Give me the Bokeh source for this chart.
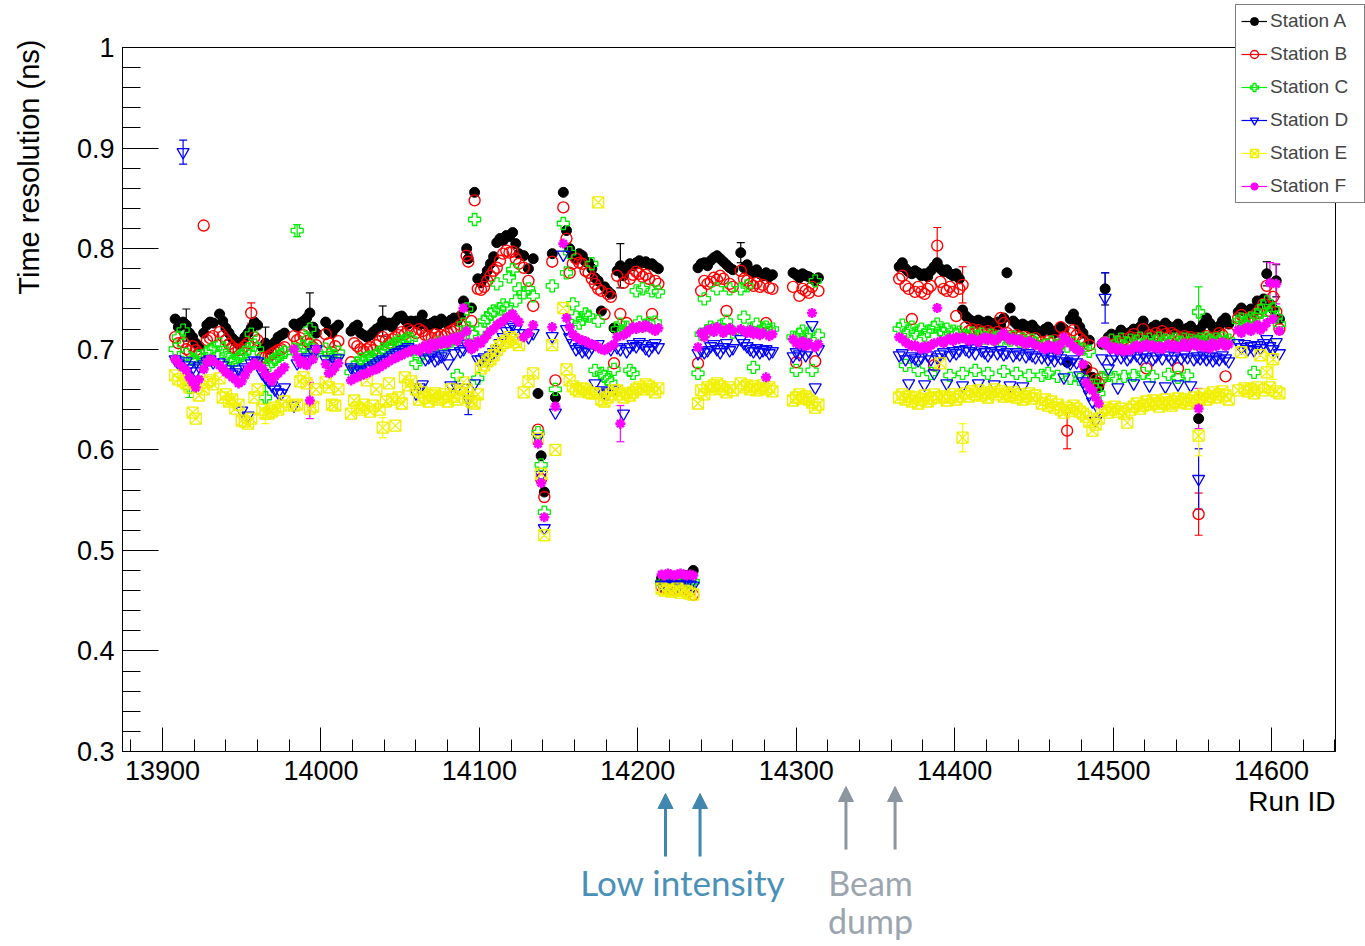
from math import pi
from bokeh.plotting import figure
from bokeh.models import (ColumnDataSource, Whisker, TeeHead, Legend, LegendItem, Label,
                          Arrow, NormalHead, SingleIntervalTicker, CustomJSTickFormatter,
                          BasicTickFormatter, Range1d, GridBox)
from bokeh.embed import file_html
from bokeh.resources import INLINE

# ---------------- data ----------------
run_id = [
    13908, 13910, 13913, 13915, 13917, 13919, 13921, 13923, 13926, 13928, 13930, 13932,
    13936, 13938, 13940, 13942, 13944, 13946, 13948, 13950, 13952, 13954, 13956, 13958, 13960,
    13963, 13965, 13967, 13969, 13971, 13973, 13975, 13977,
    13983, 13985, 13987, 13989, 13991, 13993, 13995, 13997,
    14003, 14005, 14007, 14009, 14011,
    14019, 14021, 14023, 14025, 14027, 14029, 14031, 14033, 14035, 14037,
    14039, 14041, 14043, 14045, 14047, 14049, 14051, 14053, 14055, 14057,
    14060, 14062, 14064, 14066, 14068, 14070, 14072, 14074, 14076, 14078,
    14080, 14082, 14084, 14086, 14088, 14090, 14092, 14093, 14095, 14097, 14099,
    14101, 14103, 14105, 14107, 14109, 14111, 14113, 14115, 14117, 14119, 14121, 14123, 14125,
    14128, 14131, 14134, 14137, 14139, 14141, 14146, 14148,
    14153, 14155, 14157, 14159, 14161, 14163, 14165, 14167, 14169, 14171,
    14173, 14175, 14177, 14179, 14181, 14183, 14185,
    14187, 14189, 14191, 14193, 14195, 14197, 14199, 14201, 14203, 14205, 14207, 14209, 14211, 14213,
    14215, 14217, 14219, 14221, 14223, 14225, 14227, 14229, 14231, 14233, 14235,
    14238, 14240, 14242, 14244, 14246, 14248, 14250, 14252, 14254, 14256, 14258, 14260,
    14265, 14267, 14269, 14271, 14273, 14275, 14277, 14279, 14281, 14283, 14285,
    14298, 14300, 14302, 14304, 14306, 14308, 14310, 14312, 14314,
    14365, 14367, 14369, 14371, 14373, 14375, 14377, 14379, 14381, 14383,
    14385, 14387, 14389, 14391, 14393, 14395, 14397, 14399, 14401, 14403,
    14405, 14407, 14409, 14411, 14413, 14415, 14417, 14419, 14421, 14423,
    14425, 14427, 14429, 14431, 14433, 14435, 14437, 14439, 14441, 14443,
    14445, 14447, 14449, 14451,
    14455, 14457, 14459, 14461, 14463, 14465, 14467, 14469, 14471, 14473,
    14475, 14477, 14479, 14481, 14483, 14485, 14487, 14489, 14491,
    14493, 14495, 14497, 14499, 14501, 14503, 14505, 14507, 14509, 14511,
    14513, 14515, 14517, 14519, 14521, 14523, 14525, 14527, 14529, 14531,
    14533, 14535, 14537, 14539, 14541, 14543, 14545, 14547, 14549, 14551,
    14553, 14554, 14555, 14557, 14559, 14561, 14563, 14565, 14567, 14569, 14571, 14573,
    14579, 14581, 14583, 14585, 14587, 14589, 14591, 14593, 14595, 14597, 14599, 14601, 14603, 14605,
]

station_a = [
    0.730, 0.722, 0.727, 0.724, 0.716, 0.712, 0.706, 0.703, 0.716, 0.724, 0.727, 0.726,
    0.735, 0.728, 0.721, 0.716, 0.711, 0.708, 0.705, 0.707, 0.712, 0.716, 0.721, 0.727, 0.724,
    0.702, 0.706, 0.700, 0.704, 0.707, 0.712, 0.714, 0.716,
    0.725, 0.722, 0.726, 0.728, 0.731, 0.736, 0.722, 0.716,
    0.727, 0.719, 0.716, 0.721, 0.724,
    0.718, 0.722, 0.724, 0.716, 0.714, 0.712, 0.714, 0.717, 0.720, 0.722,
    0.728, 0.724, 0.726, 0.722, 0.728, 0.732, 0.733, 0.729, 0.725, 0.728,
    0.728, 0.724, 0.734, 0.725, 0.722, 0.726, 0.728, 0.724, 0.730, 0.727,
    0.725, 0.729, 0.731, 0.728, 0.733, 0.748, 0.800, 0.790, 0.741, 0.856, 0.770,
    0.766, 0.771, 0.778, 0.785, 0.792, 0.806, 0.810, 0.808, 0.813, 0.812, 0.816, 0.805, 0.795,
    0.793, 0.780, 0.790, 0.656, 0.594, 0.558, 0.795, 0.652,
    0.856, 0.818, 0.800, 0.793, 0.790, 0.795, 0.793, 0.787, 0.786, 0.780,
    0.771, 0.768, 0.738, 0.762, 0.758, 0.755, 0.721,
    0.778, 0.783, 0.773, 0.780, 0.785, 0.783, 0.786, 0.788, 0.786, 0.787, 0.784, 0.785, 0.782, 0.780,
    0.472, 0.471, 0.473, 0.472, 0.474, 0.473, 0.472, 0.474, 0.475, 0.476, 0.480,
    0.781, 0.785, 0.786, 0.783, 0.788, 0.791, 0.793, 0.790, 0.787, 0.784, 0.781, 0.779,
    0.796, 0.781, 0.784, 0.778, 0.776, 0.779, 0.775, 0.773, 0.776, 0.772, 0.774,
    0.776, 0.774, 0.771, 0.775, 0.773, 0.772, 0.770, 0.768, 0.771,
    0.782, 0.786, 0.780, 0.777, 0.775, 0.778, 0.776, 0.773, 0.775, 0.772,
    0.778, 0.782, 0.786, 0.780, 0.777, 0.779, 0.775, 0.773, 0.775, 0.770,
    0.739, 0.733, 0.730, 0.728, 0.726, 0.729, 0.727, 0.725, 0.728, 0.726,
    0.723, 0.727, 0.724, 0.731, 0.776, 0.741, 0.728, 0.725, 0.722, 0.725,
    0.723, 0.721, 0.724, 0.720,
    0.717, 0.720, 0.722, 0.718, 0.716, 0.719, 0.722, 0.720, 0.687, 0.730,
    0.735, 0.728, 0.722, 0.716, 0.680, 0.709, 0.672, 0.668, 0.662,
    0.705, 0.760, 0.712, 0.715, 0.710, 0.714, 0.719, 0.716, 0.713, 0.717,
    0.720, 0.715, 0.722, 0.728, 0.720, 0.716, 0.722, 0.724, 0.718, 0.721,
    0.726, 0.723, 0.719, 0.722, 0.725, 0.720, 0.717, 0.721, 0.723, 0.719,
    0.716, 0.631, 0.720, 0.725, 0.731, 0.726, 0.722, 0.719, 0.723, 0.728, 0.731, 0.725,
    0.737, 0.741, 0.738, 0.735, 0.740, 0.737, 0.748, 0.744, 0.750, 0.775, 0.745, 0.740, 0.768, 0.730,
]

station_b = [
    0.712, 0.706, 0.707, 0.700, 0.698, 0.703, 0.699, 0.696, 0.823, 0.709, 0.711, 0.713,
    0.717, 0.713, 0.709, 0.705, 0.702, 0.700, 0.699, 0.700, 0.703, 0.706, 0.736, 0.712, 0.709,
    0.692, 0.692, 0.693, 0.695, 0.697, 0.699, 0.700, 0.702,
    0.713, 0.709, 0.711, 0.714, 0.708, 0.705, 0.702, 0.704,
    0.715, 0.706, 0.697, 0.703, 0.708,
    0.687, 0.706, 0.703, 0.700, 0.698, 0.700, 0.702, 0.699, 0.704, 0.708,
    0.712, 0.709, 0.706, 0.710, 0.712, 0.714, 0.717, 0.715, 0.720, 0.718,
    0.716, 0.720, 0.718, 0.714, 0.713, 0.711, 0.715, 0.712, 0.714, 0.713,
    0.716, 0.718, 0.720, 0.721, 0.724, 0.735, 0.793, 0.787, 0.728, 0.848, 0.760,
    0.759, 0.762, 0.768, 0.773, 0.778, 0.781, 0.788, 0.795, 0.798, 0.796, 0.797, 0.790, 0.785,
    0.781, 0.768, 0.743, 0.620, 0.571, 0.553, 0.787, 0.669,
    0.841, 0.810, 0.776, 0.785, 0.790, 0.786, 0.785, 0.778, 0.776, 0.770,
    0.765, 0.760, 0.758, 0.735, 0.755, 0.752, 0.686,
    0.773, 0.735, 0.766, 0.726, 0.770, 0.774, 0.777, 0.775, 0.772, 0.774, 0.770, 0.735, 0.768, 0.765,
    0.464, 0.463, 0.462, 0.463, 0.461, 0.462, 0.463, 0.461, 0.462, 0.460, 0.456,
    0.686, 0.758, 0.768, 0.765, 0.767, 0.771, 0.769, 0.773, 0.770, 0.738, 0.765, 0.762,
    0.778, 0.770, 0.768, 0.765, 0.763, 0.766, 0.762, 0.764, 0.726, 0.761, 0.760,
    0.762, 0.687, 0.753, 0.760, 0.758, 0.756, 0.762, 0.688, 0.758,
    0.770, 0.773, 0.763, 0.760, 0.730, 0.757, 0.762, 0.757, 0.755, 0.760,
    0.763, 0.684, 0.803, 0.767, 0.760, 0.758, 0.762, 0.757, 0.733, 0.760,
    0.764, 0.722, 0.718, 0.720, 0.716, 0.719, 0.717, 0.715, 0.718, 0.716,
    0.714, 0.717, 0.731, 0.726, 0.716, 0.713, 0.711, 0.714, 0.712, 0.709,
    0.712, 0.710, 0.708, 0.711,
    0.707, 0.705, 0.708, 0.706, 0.709, 0.704, 0.722, 0.712, 0.619, 0.716,
    0.719, 0.714, 0.711, 0.708, 0.682, 0.704, 0.676, 0.670, 0.666,
    0.671, 0.707, 0.705, 0.709, 0.704, 0.708, 0.706, 0.710, 0.707, 0.712,
    0.715, 0.711, 0.709, 0.720, 0.681, 0.714, 0.712, 0.716, 0.713, 0.718,
    0.715, 0.712, 0.716, 0.714, 0.681, 0.711, 0.713, 0.710, 0.712, 0.709,
    0.711, 0.536, 0.707, 0.710, 0.713, 0.711, 0.709, 0.712, 0.716, 0.714, 0.673, 0.716,
    0.731, 0.734, 0.730, 0.728, 0.732, 0.729, 0.736, 0.740, 0.745, 0.763, 0.738, 0.752, 0.737, 0.720,
]

station_c = [
    0.700, 0.712, 0.719, 0.695, 0.662, 0.690, 0.688, 0.693, 0.690, 0.697, 0.699, 0.701,
    0.705, 0.700, 0.694, 0.690, 0.688, 0.689, 0.692, 0.694, 0.697, 0.700, 0.715, 0.704, 0.700,
    0.686, 0.652, 0.684, 0.688, 0.690, 0.693, 0.695, 0.697,
    0.700, 0.818, 0.698, 0.703, 0.710, 0.720, 0.700, 0.698,
    0.700, 0.695, 0.690, 0.693, 0.697,
    0.677, 0.682, 0.686, 0.690, 0.688, 0.691, 0.692, 0.690, 0.694, 0.697,
    0.700, 0.698, 0.702, 0.704, 0.706, 0.708, 0.706, 0.709, 0.711, 0.710,
    0.686, 0.692, 0.697, 0.700, 0.703, 0.701, 0.704, 0.706, 0.702, 0.705,
    0.707, 0.708, 0.710, 0.674, 0.712, 0.725, 0.740, 0.721, 0.716, 0.829, 0.671,
    0.720, 0.728, 0.731, 0.735, 0.738, 0.765, 0.740, 0.744, 0.741, 0.772, 0.779, 0.748, 0.760,
    0.756, 0.760, 0.753, 0.617, 0.585, 0.538, 0.763, 0.660,
    0.825, 0.776, 0.796, 0.745, 0.732, 0.726, 0.730, 0.735, 0.733, 0.785,
    0.679, 0.728, 0.676, 0.673, 0.670, 0.667, 0.680,
    0.720, 0.725, 0.718, 0.722, 0.679, 0.676, 0.758, 0.727, 0.760, 0.724, 0.726, 0.758, 0.727, 0.757,
    0.468, 0.467, 0.468, 0.469, 0.468, 0.467, 0.468, 0.469, 0.468, 0.468, 0.469,
    0.676, 0.715, 0.750, 0.718, 0.722, 0.720, 0.760, 0.723, 0.719, 0.728, 0.760, 0.717,
    0.760, 0.732, 0.763, 0.720, 0.682, 0.725, 0.718, 0.720, 0.722, 0.719, 0.720,
    0.712, 0.679, 0.715, 0.718, 0.713, 0.716, 0.679, 0.768, 0.714,
    0.720, 0.724, 0.684, 0.718, 0.722, 0.716, 0.679, 0.720, 0.714, 0.718,
    0.676, 0.722, 0.725, 0.719, 0.716, 0.720, 0.674, 0.718, 0.715, 0.717,
    0.676, 0.714, 0.712, 0.716, 0.679, 0.713, 0.715, 0.711, 0.676, 0.714,
    0.710, 0.712, 0.709, 0.678, 0.711, 0.709, 0.712, 0.676, 0.708, 0.710,
    0.707, 0.674, 0.709, 0.706,
    0.674, 0.704, 0.676, 0.707, 0.702, 0.673, 0.705, 0.708, 0.703, 0.671,
    0.706, 0.702, 0.670, 0.700, 0.668, 0.698, 0.664, 0.660, 0.656,
    0.672, 0.706, 0.674, 0.709, 0.672, 0.707, 0.710, 0.673, 0.706, 0.709,
    0.674, 0.708, 0.711, 0.676, 0.707, 0.710, 0.673, 0.708, 0.711, 0.706,
    0.709, 0.675, 0.708, 0.710, 0.672, 0.707, 0.710, 0.674, 0.709, 0.706,
    0.708, 0.737, 0.710, 0.707, 0.711, 0.709, 0.706, 0.710, 0.708, 0.711, 0.707, 0.709,
    0.728, 0.730, 0.726, 0.729, 0.731, 0.677, 0.733, 0.738, 0.742, 0.747, 0.735, 0.740, 0.732, 0.725,
]

station_d = [
    0.690, 0.686, 0.896, 0.688, 0.684, 0.681, 0.678, 0.683, 0.685, 0.688, 0.690, 0.687,
    0.687, 0.684, 0.680, 0.677, 0.675, 0.677, 0.680, 0.639, 0.682, 0.634, 0.686, 0.689, 0.688,
    0.676, 0.672, 0.668, 0.664, 0.660, 0.657, 0.656, 0.662,
    0.644, 0.686, 0.688, 0.690, 0.692, 0.690, 0.697, 0.700,
    0.690, 0.686, 0.684, 0.688, 0.691,
    0.682, 0.680, 0.678, 0.679, 0.677, 0.680, 0.682, 0.684, 0.686, 0.688,
    0.690, 0.689, 0.692, 0.694, 0.696, 0.697, 0.699, 0.700, 0.702, 0.700,
    0.656, 0.662, 0.665, 0.690, 0.692, 0.694, 0.689, 0.691, 0.693, 0.695,
    0.686, 0.664, 0.696, 0.662, 0.698, 0.700, 0.705, 0.650, 0.702, 0.666, 0.690,
    0.690, 0.692, 0.689, 0.694, 0.697, 0.700, 0.706, 0.712, 0.718, 0.722, 0.724, 0.720, 0.716,
    0.716, 0.712, 0.716, 0.612, 0.575, 0.522, 0.713, 0.637,
    0.794, 0.720, 0.712, 0.706, 0.700, 0.702, 0.698, 0.700, 0.697, 0.702,
    0.666, 0.705, 0.659, 0.657, 0.656, 0.700, 0.660,
    0.702, 0.700, 0.636, 0.698, 0.702, 0.705, 0.703, 0.707, 0.705, 0.701, 0.699, 0.703, 0.706, 0.702,
    0.466, 0.465, 0.466, 0.467, 0.466, 0.465, 0.466, 0.466, 0.467, 0.466, 0.465,
    0.696, 0.699, 0.697, 0.699, 0.703, 0.705, 0.700, 0.697, 0.702, 0.706, 0.699, 0.701,
    0.710, 0.706, 0.703, 0.700, 0.698, 0.701, 0.697, 0.699, 0.700, 0.696, 0.698,
    0.693, 0.697, 0.695, 0.699, 0.694, 0.698, 0.724, 0.662, 0.700,
    0.694, 0.696, 0.690, 0.666, 0.693, 0.691, 0.689, 0.692, 0.665, 0.694,
    0.690, 0.676, 0.692, 0.695, 0.697, 0.666, 0.694, 0.698, 0.696, 0.699,
    0.664, 0.700, 0.698, 0.701, 0.696, 0.666, 0.699, 0.697, 0.694, 0.698,
    0.665, 0.696, 0.699, 0.695, 0.697, 0.664, 0.694, 0.697, 0.695, 0.663,
    0.693, 0.696, 0.694, 0.692,
    0.692, 0.695, 0.690, 0.693, 0.689, 0.694, 0.691, 0.672, 0.688, 0.686,
    0.690, 0.687, 0.674, 0.668, 0.662, 0.655, 0.648, 0.629, 0.640,
    0.691, 0.751, 0.681, 0.690, 0.694, 0.662, 0.692, 0.695, 0.690, 0.693,
    0.666, 0.694, 0.691, 0.695, 0.692, 0.664, 0.690, 0.693, 0.696, 0.691,
    0.663, 0.694, 0.690, 0.693, 0.665, 0.691, 0.695, 0.692, 0.664, 0.690,
    0.693, 0.571, 0.691, 0.694, 0.690, 0.693, 0.689, 0.692, 0.690, 0.694, 0.691, 0.688,
    0.706, 0.702, 0.705, 0.700, 0.703, 0.699, 0.704, 0.701, 0.706, 0.710, 0.703, 0.700, 0.707, 0.696,
]

station_e = [
    0.674, 0.670, 0.668, 0.666, 0.662, 0.637, 0.631, 0.654, 0.660, 0.667, 0.669, 0.665,
    0.671, 0.652, 0.655, 0.648, 0.650, 0.641, 0.645, 0.629, 0.628, 0.626, 0.631, 0.652, 0.660,
    0.640, 0.636, 0.636, 0.638, 0.642, 0.640, 0.644, 0.648,
    0.644, 0.645, 0.668, 0.672, 0.666, 0.641, 0.643, 0.660,
    0.667, 0.662, 0.645, 0.644, 0.660,
    0.636, 0.649, 0.642, 0.640, 0.645, 0.669, 0.638, 0.644, 0.660, 0.640,
    0.622, 0.648, 0.666, 0.650, 0.624, 0.652, 0.646, 0.672, 0.664, 0.668,
    0.660, 0.650, 0.657, 0.652, 0.648, 0.654, 0.656, 0.650, 0.652, 0.655,
    0.648, 0.660, 0.653, 0.650, 0.656, 0.667, 0.660, 0.652, 0.648, 0.646, 0.655,
    0.681, 0.684, 0.688, 0.690, 0.694, 0.699, 0.703, 0.706, 0.708, 0.712, 0.710, 0.707, 0.704,
    0.657, 0.668, 0.676, 0.611, 0.576, 0.515, 0.704, 0.600,
    0.741, 0.680, 0.669, 0.663, 0.660, 0.658, 0.661, 0.660, 0.657, 0.656,
    0.656, 0.846, 0.650, 0.648, 0.652, 0.655, 0.659,
    0.659, 0.655, 0.652, 0.656, 0.654, 0.657, 0.660, 0.662, 0.660, 0.665, 0.663, 0.660, 0.657, 0.661,
    0.462, 0.460, 0.461, 0.459, 0.460, 0.462, 0.458, 0.460, 0.459, 0.457, 0.456,
    0.646, 0.659, 0.655, 0.662, 0.660, 0.664, 0.666, 0.663, 0.660, 0.657, 0.662, 0.659,
    0.666, 0.662, 0.664, 0.660, 0.663, 0.659, 0.661, 0.664, 0.660, 0.662, 0.658,
    0.649, 0.652, 0.655, 0.651, 0.653, 0.650, 0.647, 0.642, 0.645,
    0.652, 0.655, 0.650, 0.653, 0.648, 0.652, 0.646, 0.650, 0.654, 0.648,
    0.651, 0.655, 0.652, 0.686, 0.653, 0.649, 0.652, 0.655, 0.650, 0.653,
    0.612, 0.656, 0.653, 0.658, 0.655, 0.659, 0.654, 0.656, 0.652, 0.657,
    0.660, 0.655, 0.658, 0.653, 0.656, 0.654, 0.657, 0.652, 0.655, 0.650,
    0.653, 0.656, 0.651, 0.654,
    0.646, 0.650, 0.644, 0.648, 0.642, 0.645, 0.640, 0.637, 0.642, 0.639,
    0.644, 0.641, 0.638, 0.636, 0.633, 0.628, 0.619, 0.625, 0.631,
    0.639, 0.642, 0.637, 0.640, 0.643, 0.638, 0.641, 0.636, 0.627, 0.640,
    0.643, 0.646, 0.641, 0.644, 0.648, 0.645, 0.649, 0.646, 0.643, 0.647,
    0.650, 0.646, 0.644, 0.648, 0.651, 0.647, 0.650, 0.646, 0.649, 0.652,
    0.648, 0.614, 0.651, 0.655, 0.650, 0.653, 0.657, 0.652, 0.655, 0.658, 0.654, 0.650,
    0.659, 0.697, 0.661, 0.658, 0.660, 0.656, 0.662, 0.694, 0.659, 0.677, 0.662, 0.690, 0.658, 0.656,
]

station_f = [
    0.690, 0.686, 0.682, 0.679, 0.672, 0.667, 0.662, 0.670, 0.680, 0.687, 0.690, 0.688,
    0.684, 0.681, 0.677, 0.675, 0.672, 0.670, 0.666, 0.668, 0.674, 0.680, 0.683, 0.686, 0.684,
    0.681, 0.675, 0.672, 0.668, 0.673, 0.676, 0.679, 0.682,
    0.700, 0.692, 0.686, 0.688, 0.684, 0.649, 0.690, 0.700,
    0.685, 0.676, 0.678, 0.682, 0.686,
    0.669, 0.671, 0.672, 0.674, 0.675, 0.676, 0.678, 0.679, 0.680, 0.682,
    0.684, 0.686, 0.688, 0.690, 0.691, 0.693, 0.694, 0.696, 0.697, 0.699,
    0.700, 0.698, 0.702, 0.704, 0.700, 0.706, 0.703, 0.707, 0.705, 0.709,
    0.706, 0.710, 0.712, 0.708, 0.713, 0.741, 0.718, 0.706, 0.700, 0.702, 0.708,
    0.706, 0.710, 0.714, 0.718, 0.720, 0.724, 0.726, 0.728, 0.731, 0.733, 0.735, 0.730, 0.727,
    0.712, 0.716, 0.724, 0.606, 0.567, 0.533, 0.722, 0.643,
    0.805, 0.731, 0.722, 0.715, 0.712, 0.710, 0.709, 0.708, 0.706, 0.705,
    0.704, 0.702, 0.700, 0.699, 0.701, 0.703, 0.705,
    0.712, 0.626, 0.714, 0.716, 0.719, 0.722, 0.720, 0.723, 0.721, 0.724, 0.722, 0.720, 0.718, 0.721,
    0.476, 0.475, 0.477, 0.476, 0.475, 0.476, 0.477, 0.476, 0.475, 0.476, 0.475,
    0.702, 0.716, 0.712, 0.719, 0.720, 0.717, 0.722, 0.720, 0.716, 0.719, 0.721, 0.718,
    0.720, 0.718, 0.716, 0.719, 0.715, 0.717, 0.714, 0.716, 0.672, 0.713, 0.715,
    0.710, 0.706, 0.705, 0.708, 0.703, 0.706, 0.736, 0.702, 0.705,
    0.712, 0.710, 0.707, 0.705, 0.703, 0.704, 0.702, 0.700, 0.703, 0.701,
    0.704, 0.706, 0.741, 0.708, 0.706, 0.709, 0.711, 0.708, 0.712, 0.710,
    0.712, 0.710, 0.708, 0.711, 0.709, 0.707, 0.710, 0.712, 0.709, 0.711,
    0.708, 0.710, 0.713, 0.716, 0.712, 0.709, 0.711, 0.708, 0.710, 0.707,
    0.705, 0.708, 0.706, 0.704,
    0.702, 0.700, 0.704, 0.701, 0.703, 0.699, 0.705, 0.712, 0.708, 0.706,
    0.702, 0.700, 0.698, 0.685, 0.667, 0.662, 0.659, 0.652, 0.646,
    0.706, 0.708, 0.703, 0.700, 0.702, 0.699, 0.701, 0.698, 0.700, 0.699,
    0.702, 0.704, 0.701, 0.703, 0.705, 0.702, 0.704, 0.701, 0.703, 0.700,
    0.703, 0.705, 0.702, 0.704, 0.701, 0.703, 0.706, 0.702, 0.704, 0.707,
    0.703, 0.641, 0.705, 0.702, 0.704, 0.701, 0.706, 0.703, 0.705, 0.707, 0.703, 0.705,
    0.719, 0.716, 0.720, 0.722, 0.718, 0.721, 0.724, 0.719, 0.722, 0.726, 0.766, 0.730, 0.765, 0.718,
]

# runs whose error bars are large enough to be seen, and their errors
err_runs_a = [13915, 13965, 13993, 14039, 14189, 14265, 14495, 14597, 14603]
err_size_a = [0.016, 0.016, 0.020, 0.015, 0.022, 0.010, 0.016, 0.012, 0.016]
err_runs_b = [13956, 13965, 14389, 14405, 14471, 14554]
err_size_b = [0.010, 0.012, 0.018, 0.018, 0.018, 0.021]
err_runs_c = [13913, 13917, 13965, 13985, 13993, 14554]
err_size_c = [0.008, 0.010, 0.012, 0.006, 0.015, 0.025]
err_runs_d = [13913, 14093, 14495, 14554]
err_size_d = [0.012, 0.015, 0.025, 0.030]
err_runs_e = [13965, 14039, 14405, 14554, 14597, 14601]
err_size_e = [0.010, 0.010, 0.014, 0.020, 0.020, 0.020]
err_runs_f = [13993, 14189, 14554, 14599, 14603]
err_size_f = [0.018, 0.018, 0.020, 0.020, 0.020]

station_names = ["Station A", "Station B", "Station C", "Station D", "Station E", "Station F"]
low_intensity_runs = [14217.5, 14239.3]
beam_dump_runs = [14331.4, 14362.4]

# ---------------- layout constants ----------------
W, H = 1365, 946
L, R, T, B = 122, 1335, 47, 751          # frame edges in pixels
X0, X1 = 13874.75, 14640.4               # x range of the frame
Y0, Y1 = 0.3, 1.0
FONT = "Liberation Sans"

p = figure(width=W, height=H, x_range=(X0, X1), y_range=(Y0, Y1),
           output_backend="svg", toolbar_location=None,
           min_border_left=L, min_border_right=W - R, min_border_top=T, min_border_bottom=H - B)
p.frame_align = False
p.background_fill_color = "white"
p.border_fill_color = "white"
p.outline_line_color = "black"
p.outline_line_width = 1
p.xgrid.visible = False
p.ygrid.visible = False

p.xaxis.ticker = SingleIntervalTicker(interval=100, num_minor_ticks=5)
p.yaxis.ticker = SingleIntervalTicker(interval=0.1, num_minor_ticks=5)
p.xaxis.formatter = BasicTickFormatter(use_scientific=False)
p.yaxis.formatter = CustomJSTickFormatter(code="return Math.abs(tick-1)<1e-6 ? '1' : tick.toFixed(1);")
for ax in (p.xaxis, p.yaxis):
    ax.axis_line_color = "black"
    ax.major_tick_line_color = "black"
    ax.minor_tick_line_color = "black"
    ax.major_tick_out = 0
    ax.minor_tick_out = 0
    ax.major_label_text_font = FONT
    ax.major_label_text_font_size = "27px"
    ax.major_label_text_color = "black"
p.xaxis.major_tick_in = 24
p.xaxis.minor_tick_in = 12
p.yaxis.major_tick_in = 36
p.yaxis.minor_tick_in = 18
p.xaxis.major_label_standoff = 9
p.yaxis.major_label_standoff = 8

src = ColumnDataSource(dict(run=run_id, A=station_a, B=station_b, C=station_c,
                            D=station_d, E=station_e, F=station_f))

styles = [
    ("A", "black", dict(marker="circle", size=10, fill_color="black", line_color="black", line_width=1)),
    ("B", "#ff0000", dict(marker="circle", size=11, fill_color=None, line_color="#ff0000", line_width=1.4)),
    ("C", "#00ee00", dict(marker="plus", size=12, fill_color=None, line_color="#00ee00", line_width=1.3)),
    ("D", "#0000ff", dict(marker="inverted_triangle", size=12, fill_color=None, line_color="#0000ff", line_width=1.3)),
    ("E", "#ffff00", dict(marker="square_x", size=11, fill_color=None, line_color="#f0f000", line_width=1.3)),
    ("F", "#ff00ff", dict(marker="asterisk", size=10, line_color="#ff00ff", line_width=2.6)),
]
err_lists = {"A": (err_runs_a, err_size_a, station_a), "B": (err_runs_b, err_size_b, station_b),
             "C": (err_runs_c, err_size_c, station_c), "D": (err_runs_d, err_size_d, station_d),
             "E": (err_runs_e, err_size_e, station_e), "F": (err_runs_f, err_size_f, station_f)}

for key, color, kw in styles:
    runs_e, sizes_e, vals = err_lists[key]
    lookup = dict(zip(run_id, vals))
    esrc = ColumnDataSource(dict(base=runs_e,
                                 upper=[lookup[r] + e for r, e in zip(runs_e, sizes_e)],
                                 lower=[lookup[r] - e for r, e in zip(runs_e, sizes_e)]))
    p.add_layout(Whisker(base="base", upper="upper", lower="lower", source=esrc, dimension="height",
                         line_color=color, line_width=1.2,
                         upper_head=TeeHead(size=8, line_color=color, line_width=1.2),
                         lower_head=TeeHead(size=8, line_color=color, line_width=1.2)))
    p.scatter(x="run", y=key, source=src, **kw)

# ---------------- overlay: same scales, spanning the whole canvas (texts outside the frame) ----
ux = (X1 - X0) / (R - L)
uy = (Y1 - Y0) / (B - T)
ov = figure(width=W, height=H,
            x_range=Range1d(X0 - L * ux, X1 + (W - R) * ux),
            y_range=Range1d(Y0 - (H - B) * uy, Y1 + T * uy),
            x_axis_type=None, y_axis_type=None, output_backend="svg", toolbar_location=None,
            min_border=0)
ov.frame_align = False
ov.background_fill_color = None
ov.border_fill_color = None
ov.outline_line_color = None

nan = float("nan")
items = []
for (key, color, kw), name in zip(styles, station_names):
    lr = ov.line(x=[nan, nan], y=[nan, nan], line_color=color, line_width=1.2)
    sr = ov.scatter(x=[nan], y=[nan], **kw)
    items.append(LegendItem(label=name, renderers=[lr, sr]))

legend = Legend(items=items, location=(1235, H - 203), label_text_font=FONT, label_text_font_size="19px",
                glyph_width=26, glyph_height=20, label_height=20, label_width=89, spacing=11,
                padding=5, margin=0, label_standoff=3, border_line_color="black",
                border_line_width=1, background_fill_color="white", background_fill_alpha=1.0)
ov.add_layout(legend)

def px2x(px):
    return X0 + (px - L) * ux

def py2y(py):
    return Y1 - (py - T) * uy

ov.add_layout(Label(x=px2x(28), y=py2y(39), text="Time resolution (ns)", angle=pi / 2,
                    text_align="right", text_baseline="middle", text_font=FONT,
                    text_font_size="29px", text_color="black"))
ov.add_layout(Label(x=X1, y=py2y(801), text="Run ID", text_align="right", text_baseline="middle",
                    text_font=FONT, text_font_size="28px", text_color="black"))

blue_c = "#3f87ae"
gray_c = "#8c96a1"
for xs in low_intensity_runs:
    ov.add_layout(Arrow(x_start=xs, y_start=py2y(856), x_end=xs, y_end=py2y(793), line_color=blue_c,
                        line_width=3, end=NormalHead(size=15, fill_color=blue_c, line_color=blue_c)))
for xs in beam_dump_runs:
    ov.add_layout(Arrow(x_start=xs, y_start=py2y(849), x_end=xs, y_end=py2y(786), line_color=gray_c,
                        line_width=3, end=NormalHead(size=15, fill_color=gray_c, line_color=gray_c)))

mid_low = sum(low_intensity_runs) / 2
mid_beam = sum(beam_dump_runs) / 2
ov.add_layout(Label(x=mid_low, y=py2y(881), text="Low intensity", text_align="center",
                    text_baseline="alphabetic", text_font="Lato", text_font_size="35px",
                    text_color="#4a90b8"))
ov.add_layout(Label(x=mid_beam, y=py2y(882), text="Beam", text_align="center",
                    text_baseline="alphabetic", text_font="Lato", text_font_size="34px",
                    text_color="#9ba5af"))
ov.add_layout(Label(x=mid_beam, y=py2y(920), text="dump", text_align="center",
                    text_baseline="alphabetic", text_font="Lato", text_font_size="34px",
                    text_color="#9ba5af"))

layout = GridBox(children=[(p, 0, 0), (ov, 0, 0)])
open("out.html", "w").write(file_html(layout, INLINE))
